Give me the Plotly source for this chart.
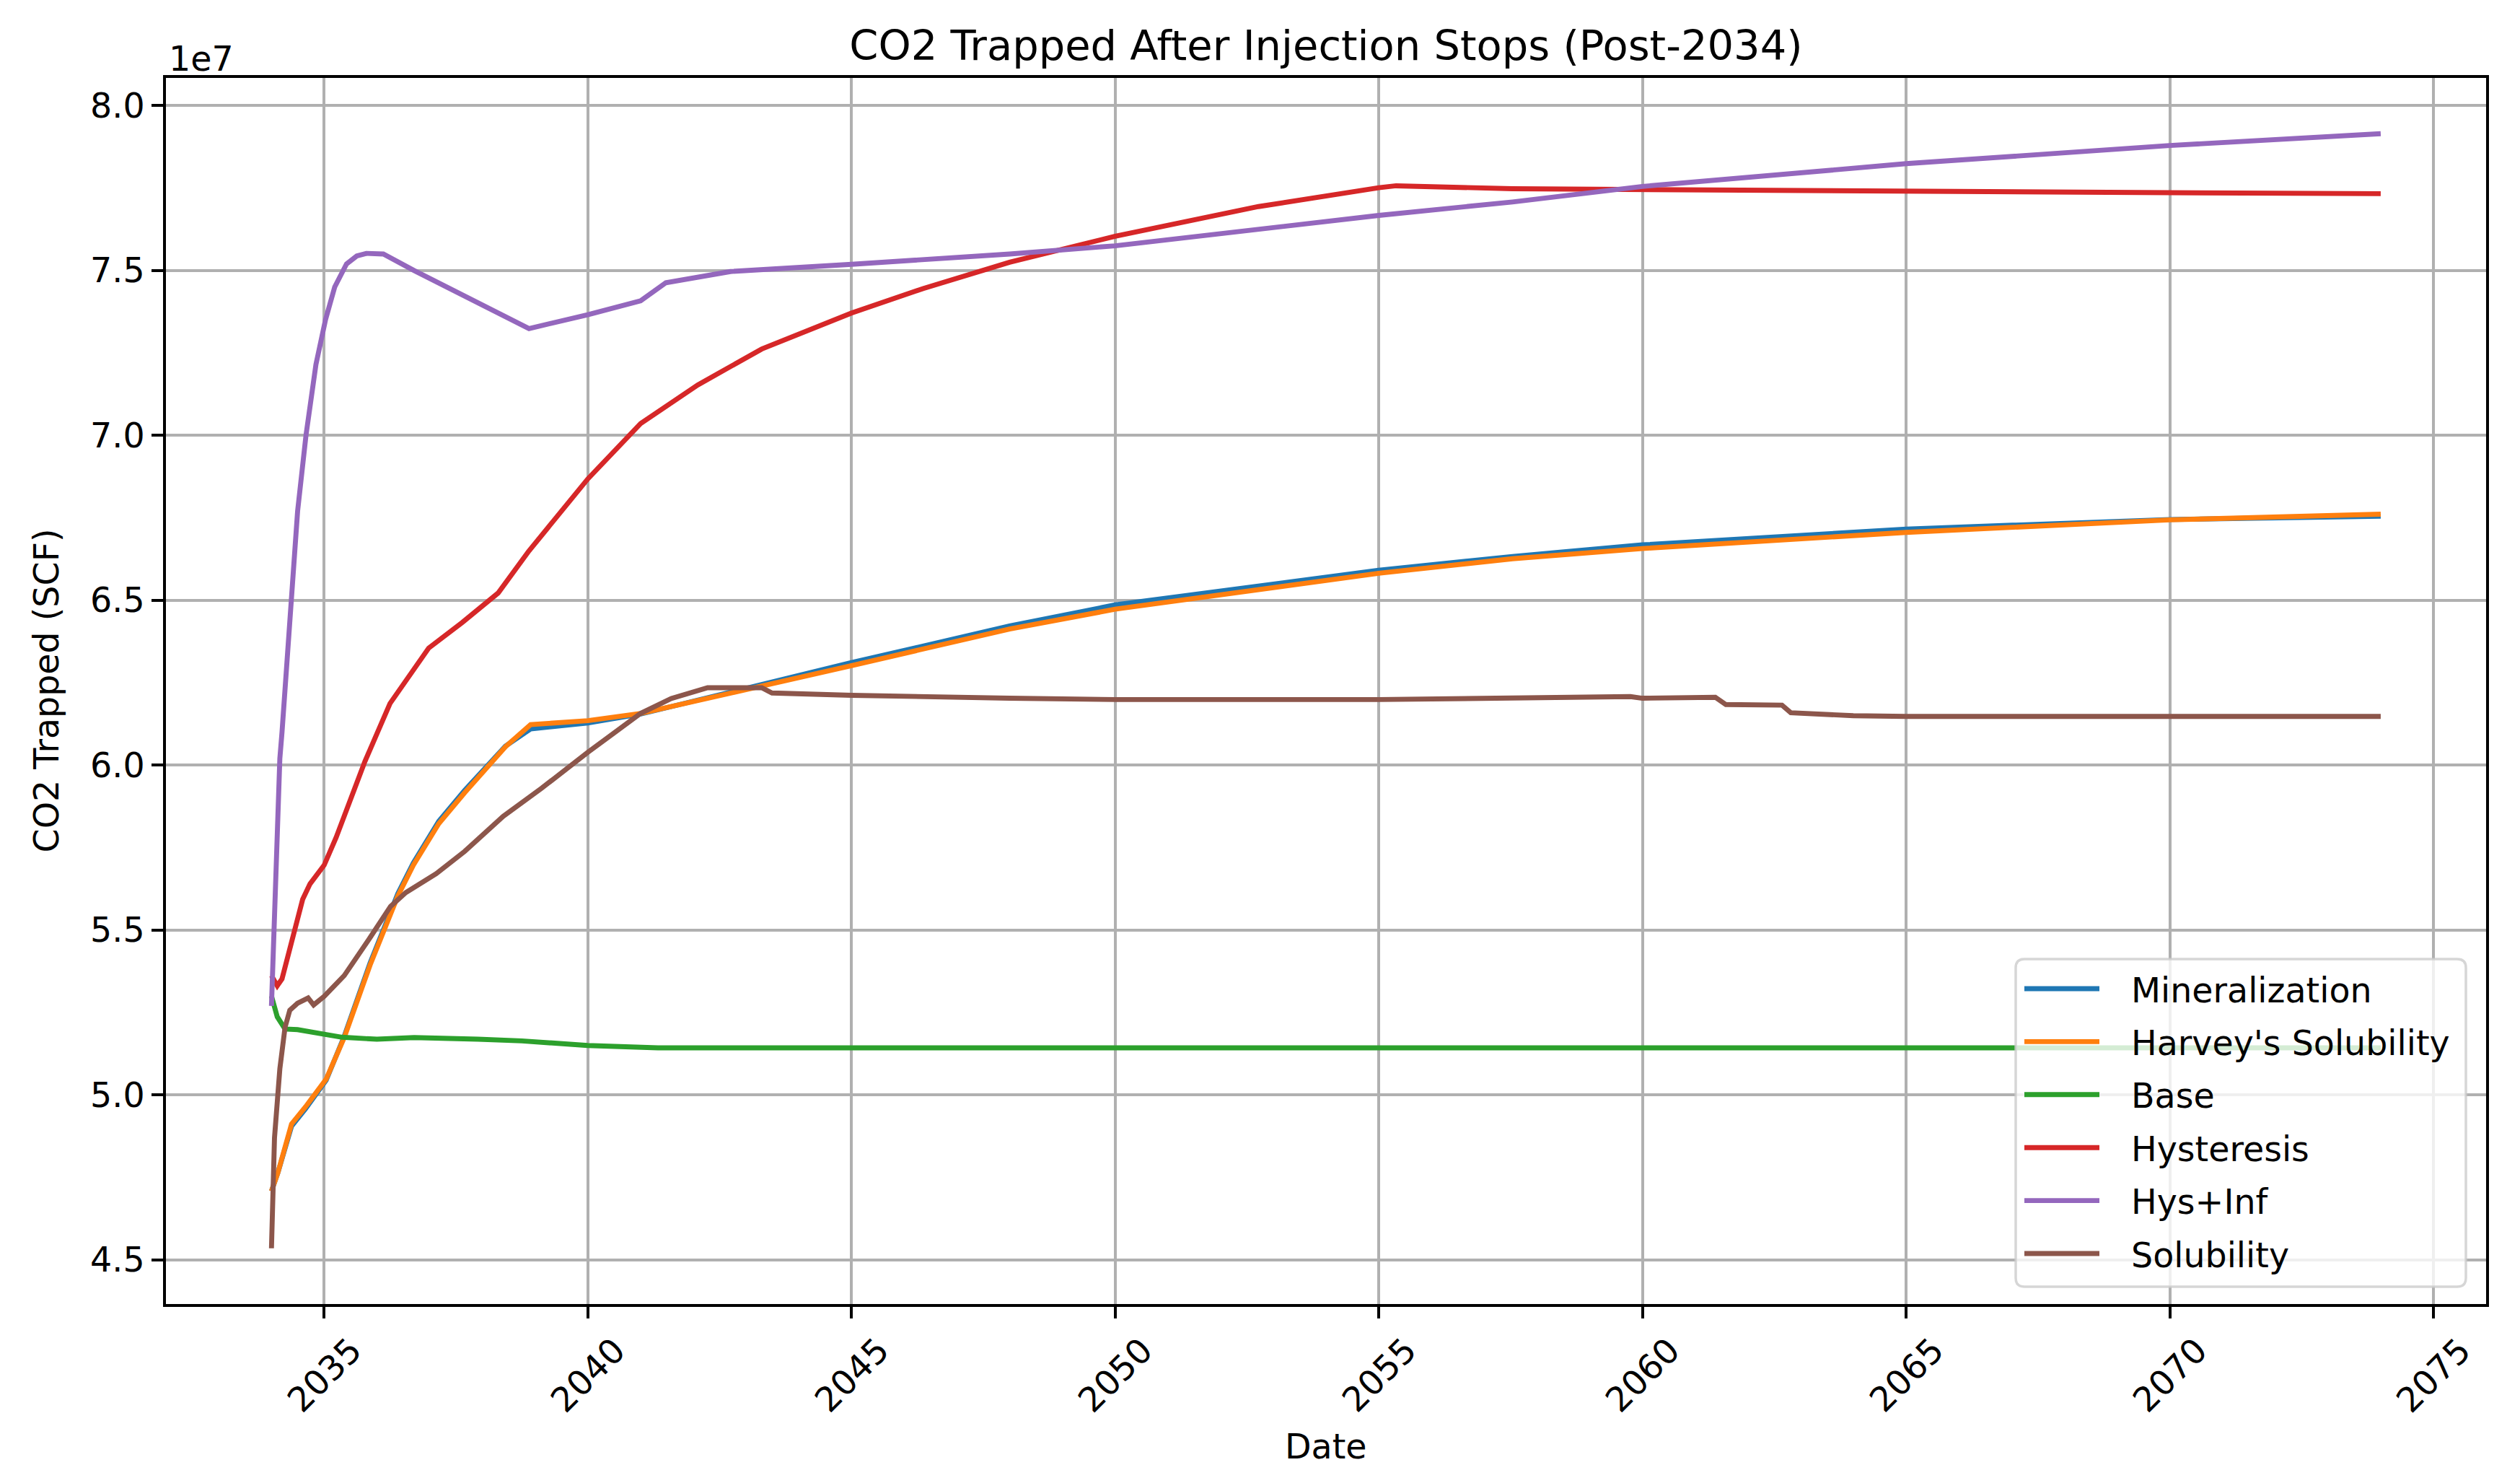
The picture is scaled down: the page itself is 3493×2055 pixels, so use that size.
import plotly.graph_objects as go

# ---------------- data ----------------
title_text = "CO2 Trapped After Injection Stops (Post-2034)"
x_title = "Date"
y_title = "CO2 Trapped (SCF)"
x_tick_labels = ["2035", "2040", "2045", "2050", "2055", "2060", "2065", "2070", "2075"]
y_tick_labels = ["4.5", "5.0", "5.5", "6.0", "6.5", "7.0", "7.5", "8.0"]
series_names = ["Mineralization", "Harvey's Solubility", "Base", "Hysteresis", "Hys+Inf", "Solubility"]

mineral_dates = ["2034-01-01", "2034-02-15", "2034-05-20", "2034-08-25", "2035-01-15", "2035-05-20",
                 "2035-11-15", "2036-05-25", "2036-09-10", "2037-03-05", "2037-09-01", "2038-04-01",
                 "2038-06-10", "2038-12-01", "2040-01-01", "2041-01-01", "2042-02-01", "2043-04-20",
                 "2045-01-01", "2048-01-01", "2050-01-01", "2055-01-01", "2057-07-15", "2060-01-01",
                 "2065-01-01", "2070-01-01", "2074-01-01"]
mineral_vals = [4.708e7, 4.765e7, 4.905e7, 4.958e7, 5.045e7, 5.178e7,
                5.400e7, 5.610e7, 5.704e7, 5.830e7, 5.924e7, 6.026e7,
                6.058e7, 6.110e7, 6.128e7, 6.155e7, 6.197e7, 6.246e7,
                6.311e7, 6.422e7, 6.486e7, 6.591e7, 6.633e7, 6.668e7,
                6.716e7, 6.745e7, 6.755e7]

harvey_dates = ["2034-01-01", "2034-02-15", "2034-05-20", "2034-08-25", "2035-01-15", "2035-05-20",
                "2035-11-15", "2036-05-25", "2036-09-10", "2037-03-05", "2037-09-01", "2038-04-01",
                "2038-06-10", "2038-12-01", "2040-01-01", "2041-01-01", "2042-02-01", "2043-04-20",
                "2045-01-01", "2048-01-01", "2050-01-01", "2055-01-01", "2057-07-15", "2060-01-01",
                "2065-01-01", "2070-01-01", "2074-01-01"]
harvey_vals = [4.708e7, 4.765e7, 4.912e7, 4.964e7, 5.048e7, 5.174e7,
               5.394e7, 5.603e7, 5.697e7, 5.823e7, 5.917e7, 6.022e7,
               6.056e7, 6.123e7, 6.135e7, 6.157e7, 6.195e7, 6.240e7,
               6.302e7, 6.413e7, 6.473e7, 6.582e7, 6.626e7, 6.657e7,
               6.706e7, 6.744e7, 6.761e7]

base_dates = ["2034-01-01", "2034-02-10", "2034-04-05", "2034-07-01", "2035-01-01", "2035-05-05",
              "2036-01-01", "2036-09-15", "2037-12-01", "2038-10-01", "2040-01-01", "2040-12-01",
              "2041-01-15", "2041-05-01", "2050-01-01", "2060-01-01", "2074-01-01"]
base_vals = [5.300e7, 5.237e7, 5.200e7, 5.198e7, 5.184e7, 5.175e7,
             5.169e7, 5.174e7, 5.169e7, 5.164e7, 5.150e7, 5.145e7,
             5.148e7, 5.143e7, 5.143e7, 5.143e7, 5.143e7]

hyst_dates = ["2034-01-01", "2034-02-10", "2034-03-15", "2034-05-25", "2034-08-05", "2034-09-25",
              "2035-01-01", "2035-03-25", "2035-06-25", "2035-10-10", "2036-04-01", "2036-12-25",
              "2037-08-15", "2038-04-20", "2038-11-20", "2040-01-01", "2041-01-01", "2042-02-01",
              "2043-04-20", "2045-01-01", "2046-05-10", "2048-01-01", "2050-01-01", "2052-09-20",
              "2055-01-01", "2055-05-01", "2057-07-15", "2060-01-01", "2065-01-01", "2070-01-01",
              "2074-01-01"]
hyst_vals = [5.362e7, 5.331e7, 5.352e7, 5.477e7, 5.593e7, 5.640e7,
             5.697e7, 5.781e7, 5.886e7, 6.011e7, 6.187e7, 6.355e7,
             6.433e7, 6.522e7, 6.650e7, 6.868e7, 7.036e7, 7.153e7,
             7.262e7, 7.371e7, 7.445e7, 7.525e7, 7.604e7, 7.694e7,
             7.751e7, 7.757e7, 7.748e7, 7.745e7, 7.740e7, 7.736e7,
             7.733e7]

hysinf_dates = ["2034-01-01", "2034-02-28", "2034-03-15", "2034-05-15", "2034-07-01", "2034-08-28",
                "2034-11-05", "2035-01-10", "2035-03-15", "2035-06-05", "2035-08-15", "2035-10-20",
                "2036-02-15", "2036-09-15", "2037-08-15", "2038-04-20", "2038-11-20", "2040-01-01",
                "2041-01-01", "2041-06-25", "2042-09-15", "2045-01-01", "2048-01-01", "2050-01-01",
                "2055-01-01", "2057-07-15", "2060-01-01", "2065-01-01", "2070-01-01", "2074-01-01"]
hysinf_vals = [5.270e7, 6.020e7, 6.100e7, 6.500e7, 6.770e7, 7.000e7,
               7.215e7, 7.350e7, 7.450e7, 7.520e7, 7.544e7, 7.552e7,
               7.550e7, 7.500e7, 7.427e7, 7.371e7, 7.324e7, 7.366e7,
               7.408e7, 7.463e7, 7.497e7, 7.519e7, 7.550e7, 7.575e7,
               7.667e7, 7.708e7, 7.755e7, 7.824e7, 7.879e7, 7.915e7]

sol_dates = ["2034-01-01", "2034-01-22", "2034-02-28", "2034-04-05", "2034-05-08", "2034-07-01",
             "2034-09-12", "2034-10-20", "2035-01-01", "2035-05-20", "2035-11-15", "2036-04-05",
             "2036-07-20", "2036-12-10", "2037-02-15", "2037-09-01", "2038-05-25", "2039-02-15",
             "2039-11-10", "2040-01-01", "2041-01-01", "2041-08-01", "2042-04-10", "2043-04-20",
             "2043-06-30", "2045-01-01", "2048-01-01", "2050-01-01", "2055-01-01", "2059-10-10",
             "2060-01-01", "2061-05-20", "2061-08-01", "2062-08-25", "2062-10-25", "2064-01-01",
             "2065-01-01", "2074-01-01"]
sol_vals = [4.535e7, 4.870e7, 5.079e7, 5.205e7, 5.257e7, 5.278e7,
            5.294e7, 5.273e7, 5.299e7, 5.362e7, 5.477e7, 5.572e7,
            5.614e7, 5.655e7, 5.671e7, 5.739e7, 5.845e7, 5.930e7,
            6.022e7, 6.039e7, 6.157e7, 6.202e7, 6.235e7, 6.235e7,
            6.219e7, 6.212e7, 6.203e7, 6.199e7, 6.199e7, 6.208e7,
            6.203e7, 6.206e7, 6.184e7, 6.182e7, 6.159e7, 6.150e7,
            6.148e7, 6.148e7]

colors = ["#1f77b4", "#ff7f0e", "#2ca02c", "#d62728", "#9467bd", "#8c564b"]

# ---------------- geometry (pixels of the 3493x2055 target) ----------------
OFF = 8                      # default page margin of the html body
W, H = 3493 - OFF, 2055 - OFF
AX_L, AX_R, AX_T, AX_B = 230, 3446, 108, 1807   # axes box in target pixels
PW, PH = AX_R - AX_L, AX_B - AX_T

def px(X):   # target x pixel -> paper
    return (X - AX_L) / PW

def py(Y):   # target y pixel -> paper
    return (AX_B - Y) / PH

FONT = "DejaVu Sans"
FS = 47.5
LINE_W = 6.9
GRID_W = 3.7

fig = go.Figure()
all_series = [(mineral_dates, mineral_vals), (harvey_dates, harvey_vals), (base_dates, base_vals),
              (hyst_dates, hyst_vals), (hysinf_dates, hysinf_vals), (sol_dates, sol_vals)]
for (xd, yv), name, c in zip(all_series, series_names, colors):
    fig.add_trace(go.Scatter(x=xd, y=yv, mode="lines", name=name,
                             line=dict(color=c, width=LINE_W), showlegend=False))

x_tick_vals = [f"{lab}-01-01" for lab in x_tick_labels]
y_tick_vals = [float(lab) * 1e7 for lab in y_tick_labels]

axis_common = dict(showline=True, linecolor="black", linewidth=3.7, mirror=True,
                   showgrid=True, gridcolor="#b0b0b0", gridwidth=GRID_W, zeroline=False,
                   ticks="outside", ticklen=16, tickwidth=3.7, tickcolor="black",
                   tickfont=dict(family=FONT, size=FS, color="black"))

fig.update_layout(
    width=W, height=H,
    margin=dict(l=AX_L - OFF, r=W - (AX_R - OFF), t=AX_T - OFF, b=H - (AX_B - OFF)),
    paper_bgcolor="white", plot_bgcolor="white",
    font=dict(family=FONT, size=FS, color="black"),
    title=dict(text=title_text, x=0.5, xref="paper", xanchor="center",
               y=1 - (63 - OFF) / H, yref="container", yanchor="middle",
               font=dict(family=FONT, size=57.5, color="black")),
    xaxis=dict(type="date", range=["2032-01-01", "2076-01-01"],
               tickvals=x_tick_vals, ticktext=x_tick_labels, showticklabels=False,
               **axis_common),
    yaxis=dict(range=[4.366e7, 8.084e7], tickvals=y_tick_vals, ticktext=y_tick_labels,
               **axis_common),
    showlegend=False,
)

# rotated x tick labels (centred under ticks like matplotlib's rotation=45)
for val, lab in zip(x_tick_vals, x_tick_labels):
    fig.add_annotation(x=val, xref="x", y=py(1905), yref="paper",
                       text=lab, textangle=-45, showarrow=False,
                       xanchor="center", yanchor="middle",
                       font=dict(family=FONT, size=FS, color="black"))

# axis titles
fig.add_annotation(x=0.5, xref="paper", y=py(2004), yref="paper",
                   text=x_title, showarrow=False, xanchor="center", yanchor="middle",
                   font=dict(family=FONT, size=FS, color="black"))
fig.add_annotation(x=px(64), xref="paper", y=0.5, yref="paper",
                   text=y_title, textangle=-90, showarrow=False, xanchor="center", yanchor="middle",
                   font=dict(family=FONT, size=FS, color="black"))
# offset text
fig.add_annotation(x=px(232), xref="paper", y=py(82), yref="paper",
                   text="1e7", showarrow=False, xanchor="left", yanchor="middle",
                   font=dict(family=FONT, size=FS, color="black"))

# legend (matplotlib style: lower right, rounded semi-transparent frame)
LX0, LX1, LY0, LY1, R = 2794, 3418, 1329, 1783, 12
rx, ry = R / PW, R / PH
x0, x1, y0, y1 = px(LX0), px(LX1), py(LY1), py(LY0)
path = (f"M {x0 + rx},{y0} L {x1 - rx},{y0} Q {x1},{y0} {x1},{y0 + ry} "
        f"L {x1},{y1 - ry} Q {x1},{y1} {x1 - rx},{y1} L {x0 + rx},{y1} "
        f"Q {x0},{y1} {x0},{y1 - ry} L {x0},{y0 + ry} Q {x0},{y0} {x0 + rx},{y0} Z")
fig.add_shape(type="path", path=path, xref="paper", yref="paper",
              fillcolor="rgba(255,255,255,0.8)", line=dict(color="rgba(204,204,204,0.8)", width=3.5),
              layer="above")
ROW0, ROW_STEP = 1370, 73.4
for i, (name, c) in enumerate(zip(series_names, colors)):
    yr = ROW0 + i * ROW_STEP
    fig.add_shape(type="line", xref="paper", yref="paper",
                  x0=px(2806), x1=px(2910), y0=py(yr), y1=py(yr),
                  line=dict(color=c, width=LINE_W), layer="above")
    fig.add_annotation(x=px(2952), xref="paper", y=py(yr + 2), yref="paper",
                       text=name, showarrow=False, xanchor="left", yanchor="middle",
                       font=dict(family=FONT, size=FS, color="black"))

fig.write_html("out.html")
